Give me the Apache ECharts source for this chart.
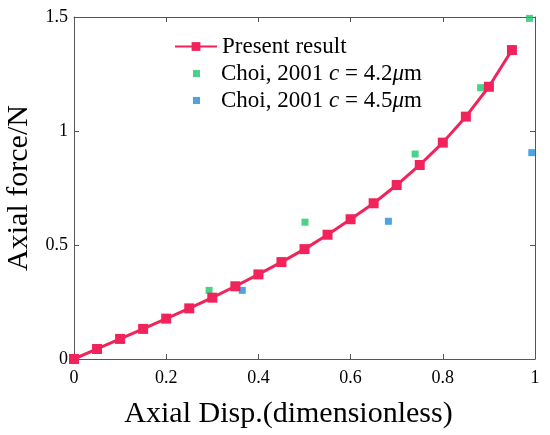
<!DOCTYPE html>
<html>
<head>
<meta charset="utf-8">
<script src="https://cdn.jsdelivr.net/npm/echarts@6/dist/echarts.min.js"></script>
<style>
  html, body { margin: 0; padding: 0; background: #fff; }
  #main { width: 550px; height: 435px; }
</style>
</head>
<body>
<div id="main"></div>
<script>
// 数据：从图中读取
var presentX = [0, 0.05, 0.1, 0.15, 0.2, 0.25, 0.3, 0.35, 0.4, 0.45, 0.5, 0.55, 0.6, 0.65, 0.7, 0.75, 0.8, 0.85, 0.9, 0.95];
var presentY = [0, 0.044, 0.088, 0.132, 0.177, 0.222, 0.269, 0.319, 0.371, 0.425, 0.482, 0.545, 0.613, 0.683, 0.763, 0.851, 0.949, 1.063, 1.194, 1.355];
var choi42X = [0.293, 0.501, 0.740, 0.882, 0.988];
var choi42Y = [0.301, 0.600, 0.899, 1.190, 1.494];
var choi45X = [0.365, 0.682, 0.993];
var choi45Y = [0.301, 0.604, 0.905];
var seriesNames = ['Present result', 'Choi, 2001 c = 4.2μm', 'Choi, 2001 c = 4.5μm'];

function pairs(xs, ys) {
    return xs.map(function (x, i) { return [x, ys[i]]; });
}

var FONT = '"Liberation Serif", "DejaVu Serif", serif';
var axisColor = '#555';

function legendText(name) {
    if (name === seriesNames[0]) return '{n|Present result}';
    var v = name.indexOf('4.2') >= 0 ? '4.2' : '4.5';
    // 散点图例的方块较小，文字前留空对齐
    return '{f|Choi, 2001 }{i|c}{n| = ' + v + '}{i|μ}{n|m}';
}
var legendTextStyle = {
    fontFamily: FONT,
    fontSize: 23,
    color: '#000',
    rich: {
        n: { fontFamily: FONT, fontSize: 23, color: '#000' },
        f: { fontFamily: FONT, fontSize: 23, color: '#000', padding: [0, 0, 0, 16] },
        i: { fontFamily: FONT, fontSize: 23, fontStyle: 'italic', color: '#000' }
    }
};

var myChart = echarts.init(document.getElementById('main'));

option = {
    backgroundColor: '#fff',
    animation: false,
    textStyle: { fontFamily: FONT, color: '#000' },
    grid: { left: 74, right: 15, top: 17, bottom: 76, containLabel: false, outerBoundsMode: 'none' },
    legend: [{
        orient: 'vertical',
        left: 169,
        top: 30,
        itemWidth: 42,
        itemHeight: 11,
        data: [seriesNames[0]],
        formatter: legendText,
        textStyle: legendTextStyle
    }, {
        orient: 'vertical',
        left: 188,
        top: 57,
        itemWidth: 7,
        itemHeight: 7,
        itemGap: 4,
        data: [seriesNames[1], seriesNames[2]],
        formatter: legendText,
        textStyle: legendTextStyle
    }],
    xAxis: [{
        type: 'value',
        min: 0, max: 1, interval: 0.2,
        name: 'Axial Disp.(dimensionless)',
        nameLocation: 'middle',
        nameGap: 40,
        nameTextStyle: { fontFamily: FONT, fontSize: 30, color: '#000', padding: [0, 32, 0, 0] },
        axisLine: { onZero: false, lineStyle: { color: axisColor, width: 1 } },
        axisTick: { inside: true, length: 5, lineStyle: { color: axisColor } },
        axisLabel: { fontFamily: FONT, fontSize: 18, color: '#000', margin: 10 },
        splitLine: { show: false }
    }, {
        type: 'value',
        position: 'top',
        min: 0, max: 1, interval: 0.2,
        axisLine: { show: true, onZero: false, lineStyle: { color: axisColor, width: 1 } },
        axisTick: { show: true, inside: true, length: 5, lineStyle: { color: axisColor } },
        axisLabel: { show: false },
        splitLine: { show: false }
    }],
    yAxis: [{
        type: 'value',
        min: 0, max: 1.5, interval: 0.5,
        name: 'Axial force/N',
        nameLocation: 'middle',
        nameGap: 37,
        nameTextStyle: { fontFamily: FONT, fontSize: 30, color: '#000' },
        axisLine: { show: true, onZero: false, lineStyle: { color: axisColor, width: 1 } },
        axisTick: { show: true, inside: true, length: 5, lineStyle: { color: axisColor } },
        axisLabel: { fontFamily: FONT, fontSize: 18, color: '#000', margin: 6 },
        splitLine: { show: false }
    }, {
        type: 'value',
        position: 'right',
        min: 0, max: 1.5, interval: 0.5,
        axisLine: { show: true, onZero: false, lineStyle: { color: axisColor, width: 1 } },
        axisTick: { show: true, inside: true, length: 5, lineStyle: { color: axisColor } },
        axisLabel: { show: false },
        splitLine: { show: false }
    }],
    series: [{
        name: seriesNames[0],
        type: 'line',
        data: pairs(presentX, presentY),
        symbol: 'rect',
        symbolSize: 10,
        clip: false,
        lineStyle: { color: '#F1235B', width: 3 },
        itemStyle: { color: '#F1235B' }
    }, {
        name: seriesNames[1],
        type: 'scatter',
        data: pairs(choi42X, choi42Y),
        symbol: 'rect',
        symbolSize: 7,
        clip: false,
        itemStyle: { color: '#1DC76A' }
    }, {
        name: seriesNames[2],
        type: 'scatter',
        data: pairs(choi45X, choi45Y),
        symbol: 'rect',
        symbolSize: 7,
        clip: false,
        itemStyle: { color: '#1E8FDE' }
    }]
};

myChart.setOption(option);
</script>
</body>
</html>
